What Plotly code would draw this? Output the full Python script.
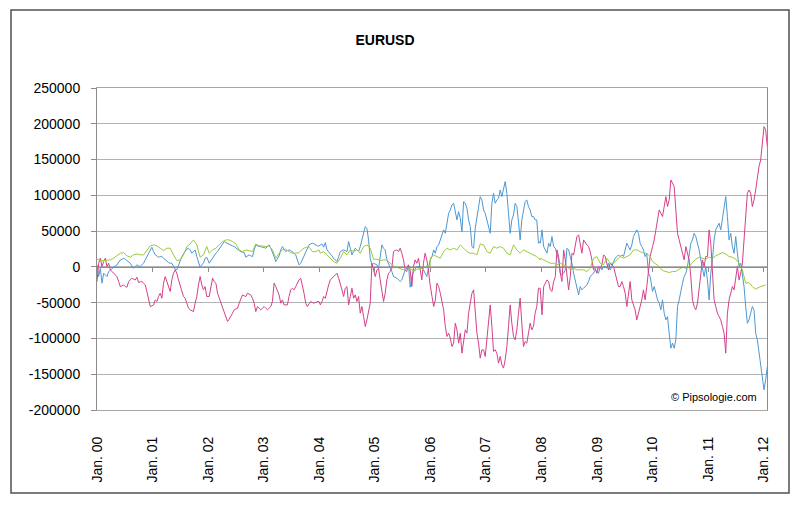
import plotly.graph_objects as go

# ---- time axis: six two-year segments, each sampled at fixed steps ----
segment_starts = [2000.0, 2002.02, 2004.02, 2006.0, 2007.98, 2010.0]
step_fine = 5 / 167      # blue / pink sampling (years)
step_green = 10 / 167    # green sampling (years)

tick_years = list(range(2000, 2013))
tick_labels = ["Jan. 00", "Jan. 01", "Jan. 02", "Jan. 03", "Jan. 04", "Jan. 05", "Jan. 06",
               "Jan. 07", "Jan. 08", "Jan. 09", "Jan. 10", "Jan. 11", "Jan. 12"]
y_ticks = [-200000, -150000, -100000, -50000, 0, 50000, 100000, 150000, 200000, 250000]
y_tick_labels = ["-200000", "-150000", "-100000", "-50000", "0", "50000", "100000",
                 "150000", "200000", "250000"]

# ---- pink series ----
pink_2000 = [-20500, 5100, 12100, 500, 7400, 12100, 500, 5100, -4200, -6500,
             -8800, -11200, -13500, -20500, -27500, -26500, -25100, -27500, -28400, -20500,
             -18200, -15800, -17200, -18200, -14400, -21900, -20900, -20500, -22800, -25100,
             -34400, -43800, -55400, -54500, -53100, -46100, -48400, -41400, -36800, -43800,
             -22800, -13500, -20500, -27500, -34400, -18200, -8800, -4200, -8800, -18200,
             -25100, -32100, -41400, -43800, -50700, -57700, -60000, -61000, -62400, -50700,
             -41400, -25100, -13500, -25100, -32100, -27500, -41400]
pink_2002 = [-41400, -25100, -15800, -20500, -22800, -36800, -43800, -50700, -55400, -64700,
             -69400, -76300, -73100, -69400, -64700, -60000, -59100, -57700, -50700, -43800,
             -39100, -40500, -41400, -36800, -37700, -39100, -43800, -50700, -62400, -55400,
             -57700, -60000, -57700, -55400, -57700, -60000, -57700, -55400, -48400, -22800,
             -27500, -33000, -39100, -50700, -46100, -53100, -53100, -53100, -41400, -32100,
             -29800, -32100, -27500, -22800, -18200, -15800, -25100, -36800, -50700, -55400,
             -51700, -48400, -49800, -50700, -49800, -48400, -48400]
pink_2004 = [-53100, -48400, -41400, -43800, -32100, -25100, -18200, -15800, -13500, -11200,
             -8800, -15800, -22800, -32100, -41400, -29800, -27500, -53100, -41400, -29800,
             -43800, -39100, -48400, -41400, -64700, -55400, -69400, -83300, -74000, -62400,
             -50700, 5100, -4200, -13500, -4200, -1900, -18200, -32100, -48400, -36800,
             -18200, -8800, -6500, -1900, 21400, 22800, 23700, 21400, 26100, 19100,
             9800, -4200, -6500, 2800, -4200, -27500, 500, 9800, 5100, 12100,
             -6500, -18200, 5100, 19100, 9800, -4200, -25100]
pink_2006 = [-27500, -41400, -55400, -46100, -22800, -27500, -36800, -48400, -60000, -83300,
             -97300, -92600, -99600, -111300, -106600, -78700, -88000, -106600, -92600, -120600,
             -106600, -88000, -92600, -64700, -50700, -36800, -32100, -60000, -92600, -106600,
             -127500, -115900, -115900, -125200, -97300, -69400, -53100, -83300, -118200, -115900,
             -120600, -134500, -125200, -136900, -141500, -129900, -111300, -83300, -53100, -78700,
             -97300, -101900, -88000, -64700, -43800, -78700, -111300, -104300, -106600, -92600,
             -78700, -88000, -83300, -64700, -55400, -29800, -29800]
pink_2008 = [-32100, -67000, -27500, -22800, -18200, -20500, -32100, -34400, -20500, -13500,
             23700, 14400, -8800, -20500, 23700, 9800, -8800, -32100, -13500, 19100,
             16800, 28400, 42400, 44700, 33100, 19100, 37700, 33100, 30700, 28400,
             21400, 9800, -4200, -1900, -8800, 500, -1900, 2800, 16800, 14400,
             5100, -4200, 5100, 2800, 500, -8800, -18200, -27500, -27500, -20500,
             -27500, -36800, -55400, -36800, -20500, -46100, -53100, -60000, -74000, -64700,
             -55400, -46100, -32100, -46100, -27500, -4200, 14400]
pink_2010 = [28400, 37700, 51700, 65600, 79600, 74900, 70300, 84300, 98200, 84300,
             93600, 121500, 116800, 112200, 79600, 47000, 37700, 28400, 19100, 9800,
             28400, 19100, 9800, -13500, -46100, -55400, -60000, -50700, -27500, -8800,
             9800, 500, 14400, 14400, 51700, 33100, -8800, -46100, -55400, -64700,
             -69400, -74000, -83300, -92600, -120600, -64700, -46100, -36800, -27500, -32100,
             -18200, 500, -18200, -8800, 5100, 37700, 84300, 102900, 107500, 102900,
             84300, 93600, 107500, 126200, 140100, 149400, 172700, 196000, 191300, 168000]

# ---- blue series ----
blue_2000 = [2800, -13500, -1900, -22800, -8800, -11200, -13500, -6500, -4200, -1900,
             500, 1400, 2800, 6100, 9800, 10700, 12100, 10700, 8800, 7000,
             5100, 1400, -1900, 500, 2800, 1400, 500, 2800, 5100, 9800,
             14400, 20000, 23700, 27500, 21400, 16800, 15400, 13500, 14400, 14400,
             12100, 9800, 7400, 6100, 5100, 5100, 500, -3300, -4200, 2800,
             8800, 14400, 18200, 21400, 24700, 26100, 23700, 19100, 21400, 23700,
             14400, 7400, -500, 2800, 5100, 12100, 13500]
blue_2002 = [5100, 8800, 12100, 16800, 19100, 21400, 24700, 28400, 32100, 35400,
             34000, 33100, 32100, 30700, 29300, 28400, 26100, 23700, 22800, 21400,
             20900, 20000, 13500, 15400, 16800, 15400, 14400, 23700, 30700, 29300,
             28400, 27900, 27500, 27000, 26100, 28400, 30700, 26100, 21400, 14400,
             7400, 12100, 15400, 23700, 28400, 24700, 21400, 22800, 23700, 22800,
             21400, 19100, 16800, 9800, 2800, 5100, 9800, 15400, 21400, 26100,
             30700, 32100, 33100, 32100, 30700, 29300, 29300]
blue_2004 = [30700, 32100, 27500, 34000, 23700, 21400, 19100, 15400, 12100, 9800,
             7400, 14400, 21400, 22800, 23700, 22800, 21400, 35400, 26100, 16800,
             21400, 26100, 23700, 21400, 28400, 37700, 44700, 56300, 54000, 37700,
             12100, 2800, 5100, 4200, 2800, -1900, 12100, 30700, 26100, 23700,
             9800, 5100, 500, -6500, -13500, -14400, -15800, -18200, -20500, -18200,
             -11200, -4200, -1900, 2800, -28400, -13500, -6500, -1900, 500, 500,
             500, -1900, -4200, -8800, -13500, -1900, 9800]
blue_2006 = [9800, 14400, 23700, 19100, 28400, 30700, 37700, 44700, 51700, 47000,
             61000, 74900, 79600, 86600, 88900, 74900, 65600, 77300, 68000, 49300,
             91200, 88900, 81900, 65600, 56300, 28400, 26100, 54000, 70300, 79600,
             98200, 93600, 79600, 74900, 65600, 56300, 47000, 88900, 102900, 88900,
             93600, 95900, 107500, 98200, 109900, 119200, 102900, 79600, 47000, 65600,
             72600, 88900, 84300, 63300, 37700, 65600, 79600, 91200, 93600, 84300,
             79600, 70300, 70300, 65600, 65600, 33100, 35400]
blue_2008 = [33100, 51700, 28400, 23700, 19100, 33100, 28400, 42400, 28400, 26100,
             16800, 9800, -8800, -11200, -8800, -4200, 26100, 23700, 14400, 5100,
             -8800, -18200, -27500, -39100, -27500, -32100, -29800, -27500, -25100, -20500,
             -13500, -11200, -8800, -4200, -6500, -8800, 500, -4200, 500, 500,
             -1900, 5100, -4200, 500, 5100, 12100, 14400, 16800, 14400, 16800,
             14400, 26100, 33100, 28400, 23700, 30700, 42400, 47000, 51700, 47000,
             33100, 28400, 23700, 14400, 19100, -8800, -13500]
blue_2010 = [-34400, -27500, -36800, -46100, -50700, -60000, -46100, -64700, -74000, -69400,
             -92600, -113600, -106600, -113600, -101900, -55400, -46100, -32100, -22800, -13500,
             -8800, 500, 19100, 33100, 37700, 47000, 42400, 33100, 23700, 9800,
             -4200, -13500, 500, -18200, -46100, -8800, 9800, 37700, 51700, 56300,
             61000, 51700, 65600, 79600, 98200, 70300, 37700, 47000, 28400, 19100,
             42400, 19100, 500, 5100, -13500, -27500, -55400, -78700, -74000, -64700,
             -55400, -60000, -92600, -101900, -120600, -139200, -157800, -171800, -157800, -139200]

# ---- green series ----
green_2000 = [10700, 8800, 8800, 8800, 9800, 12100, 15400, 19100, 20000, 15400,
              13500, 16800, 18200, 16800, 16800, 23700, 29300, 30700, 29300, 26100,
              22800, 26100, 26100, 16800, 8800, 9800, 16800, 28400, 32100, 37700,
              30700, 13500, 16800, 28400]
green_2002 = [19100, 23700, 26100, 30700, 35400, 37700, 37700, 35400, 32100, 23700,
              21400, 23700, 22800, 21400, 32100, 29300, 29300, 28400, 29300, 23700,
              12100, 19100, 23700, 24700, 21400, 19100, 19100, 20000, 24700, 27500,
              27500, 21400, 21400, 23700]
green_2004 = [19100, 21400, 16800, 12100, 7400, 5100, 12100, 21400, 16800, 23700,
              21400, 23700, 19100, 28400, 30700, 26100, 10700, 10700, 8800, 9800,
              9800, 5100, 1400, -500, -2300, -4200, -3300, -2300, -6500, -3300,
              -2300, -1900, 1400, 500]
green_2006 = [12100, 16800, 14400, 12100, 21400, 26100, 23700, 26100, 23700, 30700,
              26100, 21400, 19100, 19100, 16800, 32100, 30700, 21400, 19100, 28400,
              26100, 28400, 26100, 19100, 16800, 30700, 23700, 19100, 23700, 21400,
              19100, 16800, 14400, 9800]
green_2008 = [12100, 9800, 7400, 5100, 5100, 2800, 5100, 2800, 500, -4200,
              -1900, -4200, -4200, -4200, -6500, -1900, 12100, 14400, 5100, 2800,
              12100, 5100, 5100, 9800, 14400, 12100, 14400, 16800, 23700, 23700,
              21400, 19100, 19100, 14400]
green_2010 = [7400, 4200, 500, -5100, -6500, -7900, -6500, -6500, -3300, -500,
              -1900, 500, 6100, 10700, 13500, 12100, 10700, 13500, 12100, 15400,
              18200, 20000, 18200, 14400, 13500, 10700, 5100, -4200, -22800, -21900,
              -27500, -31200, -28400, -26500, -25100]

pink_segments = [pink_2000, pink_2002, pink_2004, pink_2006, pink_2008, pink_2010]
blue_segments = [blue_2000, blue_2002, blue_2004, blue_2006, blue_2008, blue_2010]
green_segments = [green_2000, green_2002, green_2004, green_2006, green_2008, green_2010]

BLUE = "#4e98d2"
PINK = "#d5408a"
GREEN = "#9aca3c"


def build(segments, step):
    xs, ys = [], []
    for start, vals in zip(segment_starts, segments):
        xs.extend(start + i * step for i in range(len(vals)))
        ys.extend(vals)
    return xs, ys


fig = go.Figure()
bx, by = build(blue_segments, step_fine)
px_, py_ = build(pink_segments, step_fine)
gx, gy = build(green_segments, step_green)

fig.add_trace(go.Scatter(x=bx, y=by, mode="lines", line=dict(color=BLUE, width=1),
                         name="blue", hoverinfo="skip"))
fig.add_trace(go.Scatter(x=px_, y=py_, mode="lines", line=dict(color=PINK, width=1),
                         name="pink", hoverinfo="skip"))
fig.add_trace(go.Scatter(x=gx, y=gy, mode="lines", line=dict(color=GREEN, width=1),
                         name="green", hoverinfo="skip", xaxis="x2"))

XR = [2000, 2012.06]
YR = [-200000, 250000]
OFF = 8                      # page body margin of the html page
W, H = 800 - OFF, 510 - OFF  # figure size so it fits the window
# target page positions of the plot area: x 97..767, y 88..410
L, T = 97 - OFF, 88 - OFF
R = W - (767 - OFF)
B = H - (410 - OFF)
pw, ph = W - L - R, H - T - B


def px_to_paper_x(page_x):
    return (page_x - OFF - L) / pw


def px_to_paper_y(page_y):
    return (H - B - (page_y - OFF)) / ph


NARROW = "Liberation Sans Narrow, Arial Narrow, Liberation Sans, Arial, sans-serif"

fig.update_layout(
    width=W, height=H,
    margin=dict(l=L, r=R, t=T, b=B, pad=0),
    paper_bgcolor="white", plot_bgcolor="white",
    showlegend=False,
    font=dict(family="Liberation Sans, Arial, sans-serif", size=14, color="black"),
    title=dict(text="<b>EURUSD</b>", x=(385 - OFF) / W, xref="container", xanchor="center",
               y=1 - (40 - OFF) / H, yref="container", yanchor="middle",
               font=dict(family=NARROW, size=14, color="black")),
    xaxis=dict(range=XR, tickvals=tick_years, ticktext=tick_labels, tickangle=-90,
               showgrid=False, zeroline=False, showline=True, mirror=True,
               linecolor="#a6a6a6", linewidth=1, ticks="", ticklabelstandoff=20,
               tickfont=dict(size=14, color="black")),
    xaxis2=dict(range=XR, overlaying="x", anchor="free", side="bottom",
                position=(0 - YR[0]) / (YR[1] - YR[0]),
                tickvals=tick_years, showticklabels=False, showgrid=False, zeroline=False,
                showline=True, linecolor="#8c8c8c", linewidth=1,
                ticks="outside", ticklen=4, tickcolor="#8c8c8c"),
    yaxis=dict(range=YR, tickvals=y_ticks, ticktext=y_tick_labels,
               showgrid=True, gridcolor="#b3b3b3", gridwidth=1, zeroline=False,
               showline=True, mirror=True, linecolor="#8c8c8c", linewidth=1,
               ticks="outside", ticklen=5, tickcolor="#8c8c8c", ticklabelstandoff=8,
               tickfont=dict(size=14, color="black")),
    shapes=[dict(type="rect", xref="paper", yref="paper",
                 x0=px_to_paper_x(11), x1=px_to_paper_x(789),
                 y0=px_to_paper_y(493), y1=px_to_paper_y(10),
                 line=dict(color="#505050", width=1.5), fillcolor="rgba(0,0,0,0)")],
    annotations=[dict(text="© Pipsologie.com", xref="paper", yref="paper",
                      x=px_to_paper_x(714), y=px_to_paper_y(397),
                      xanchor="center", yanchor="middle", showarrow=False,
                      font=dict(family=NARROW, size=11, color="black"))],
)

fig.write_html("out.html")
